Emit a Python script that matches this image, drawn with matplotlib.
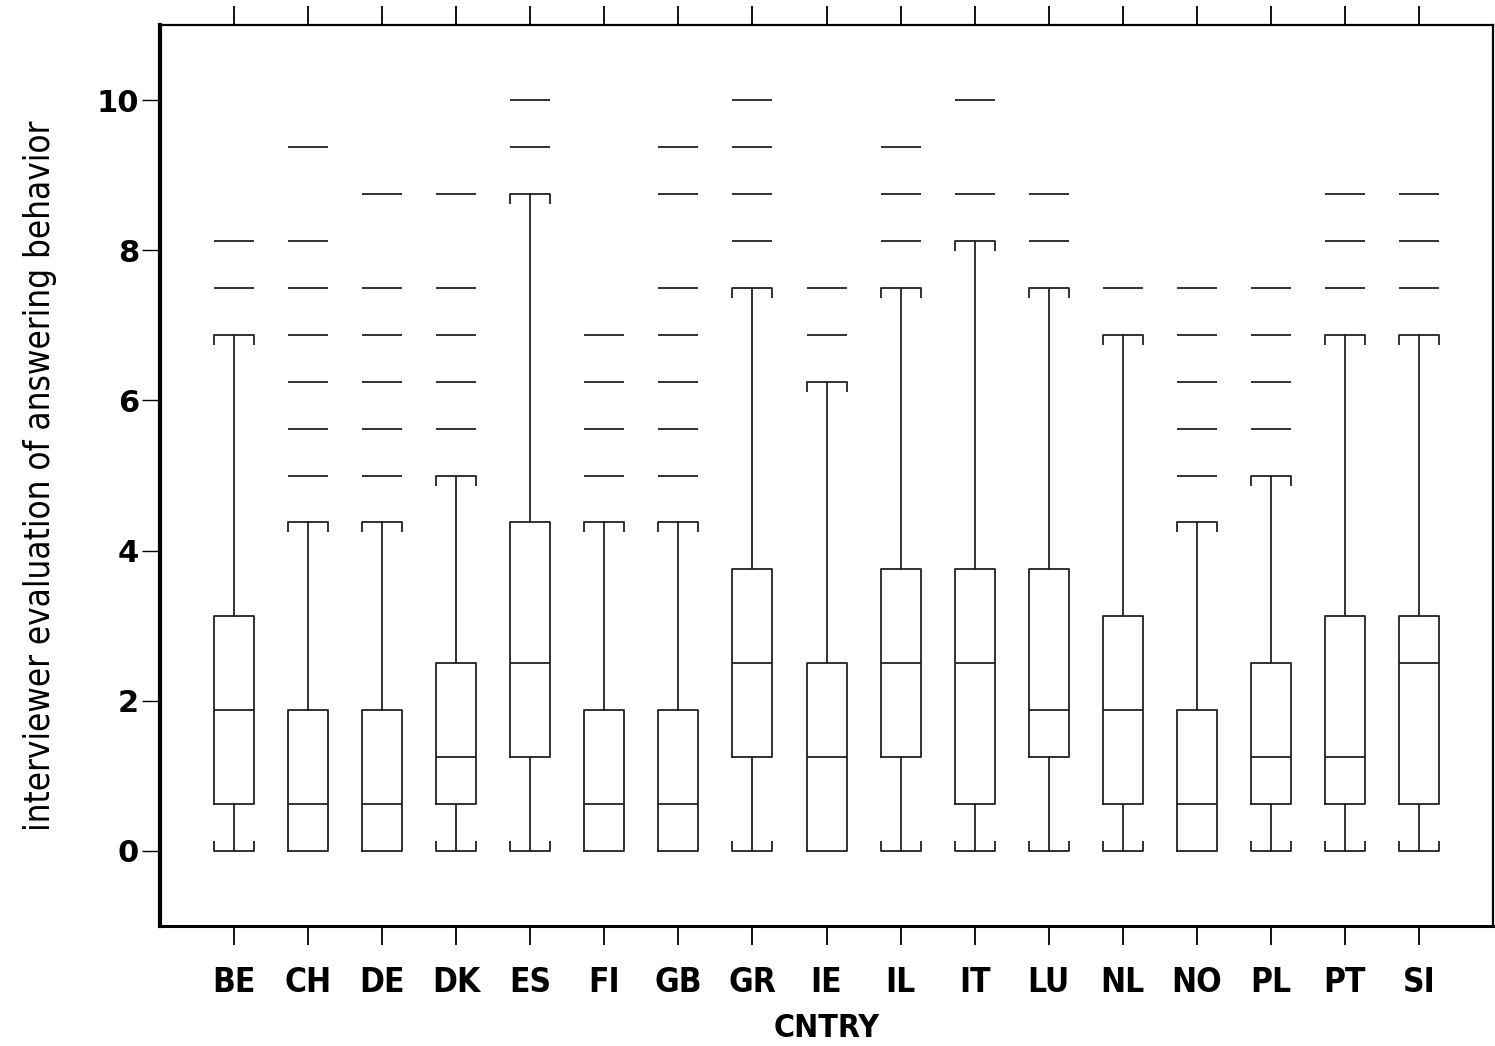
import numpy as np
import matplotlib.pyplot as plt
from matplotlib.path import Path

# Box statistics per country (score steps of 0.625)
countries = ['BE', 'CH', 'DE', 'DK', 'ES', 'FI', 'GB', 'GR', 'IE',
             'IL', 'IT', 'LU', 'NL', 'NO', 'PL', 'PT', 'SI']
whislo = [0, 0, 0, 0, 0, 0, 0, 0, 0, 0, 0, 0, 0, 0, 0, 0, 0]
q1 = [0.625, 0, 0, 0.625, 1.25, 0, 0, 1.25, 0,
      1.25, 0.625, 1.25, 0.625, 0, 0.625, 0.625, 0.625]
med = [1.875, 0.625, 0.625, 1.25, 2.5, 0.625, 0.625, 2.5, 1.25,
       2.5, 2.5, 1.875, 1.875, 0.625, 1.25, 1.25, 2.5]
q3 = [3.125, 1.875, 1.875, 2.5, 4.375, 1.875, 1.875, 3.75, 2.5,
      3.75, 3.75, 3.75, 3.125, 1.875, 2.5, 3.125, 3.125]
whishi = [6.875, 4.375, 4.375, 5.0, 8.75, 4.375, 4.375, 7.5, 6.25,
          7.5, 8.125, 7.5, 6.875, 4.375, 5.0, 6.875, 6.875]
outliers = [
    [7.5, 8.125],
    [5.0, 5.625, 6.25, 6.875, 7.5, 8.125, 9.375],
    [5.0, 5.625, 6.25, 6.875, 7.5, 8.75],
    [5.625, 6.25, 6.875, 7.5, 8.75],
    [9.375, 10.0],
    [5.0, 5.625, 6.25, 6.875],
    [5.0, 5.625, 6.25, 6.875, 7.5, 8.75, 9.375],
    [8.125, 8.75, 9.375, 10.0],
    [6.875, 7.5],
    [8.125, 8.75, 9.375],
    [8.75, 10.0],
    [8.125, 8.75],
    [7.5],
    [5.0, 5.625, 6.25, 6.875, 7.5],
    [5.625, 6.25, 6.875, 7.5],
    [7.5, 8.125, 8.75],
    [7.5, 8.125, 8.75],
]

stats = []
for i in range(len(countries)):
    stats.append({'label': countries[i], 'whislo': whislo[i], 'q1': q1[i],
                  'med': med[i], 'q3': q3[i], 'whishi': whishi[i],
                  'fliers': outliers[i]})

pos = np.arange(1, len(countries) + 1)

fig = plt.figure(figsize=(14.95, 10.46), dpi=100)
ax = fig.add_axes([0.107, 0.1147, 0.8917, 0.8613])

lw = 1.3
ink = '#222222'
ax.bxp(stats, positions=pos, widths=0.54, showcaps=False,
       boxprops=dict(color=ink, linewidth=lw),
       whiskerprops=dict(color=ink, linewidth=lw),
       medianprops=dict(color=ink, linewidth=lw),
       flierprops=dict(marker='_', markersize=29, markeredgewidth=lw,
                       markeredgecolor=ink))

# bracket-shaped whisker caps
cap_top = Path([(-1, -0.5), (-1, 0), (1, 0), (1, -0.5)])
cap_bot = Path([(-1, 0.5), (-1, 0), (1, 0), (1, 0.5)])
ax.plot(pos, whishi, ls='none', marker=cap_top, markersize=29,
        markerfacecolor='none', markeredgecolor=ink, markeredgewidth=lw)
lo_mask = np.array(whislo) < np.array(q1)
ax.plot(pos[lo_mask], np.array(whislo)[lo_mask], ls='none', marker=cap_bot,
        markersize=29, markerfacecolor='none', markeredgecolor=ink,
        markeredgewidth=lw)

ax.set_xlim(0, 18)
ax.set_ylim(-1, 11)
ax.set_yticks([0, 2, 4, 6, 8, 10])
ax.set_xticks(pos)
ax.set_xticklabels(countries, fontweight='bold', fontsize=24,
                   fontstretch='condensed')
for t in ax.get_yticklabels():
    t.set_fontweight('bold')
    t.set_fontsize(22)

ax.tick_params(axis='x', direction='out', length=14, width=1.3, pad=15,
               top=True)
ax.tick_params(axis='y', direction='out', length=13, width=1.0, pad=2)

ax.spines['left'].set_linewidth(3)
ax.spines['bottom'].set_linewidth(2.2)
ax.spines['top'].set_linewidth(1.6)
ax.spines['right'].set_linewidth(1.6)

ax.set_ylabel('interviewer evaluation of answering behavior',
              fontsize=25, fontstretch='condensed')
ax.yaxis.set_label_coords(-0.077, 0.5)
ax.set_xlabel('CNTRY', fontweight='bold', fontsize=23,
              fontstretch='condensed', labelpad=10)

fig.savefig('out.png', dpi=100)
